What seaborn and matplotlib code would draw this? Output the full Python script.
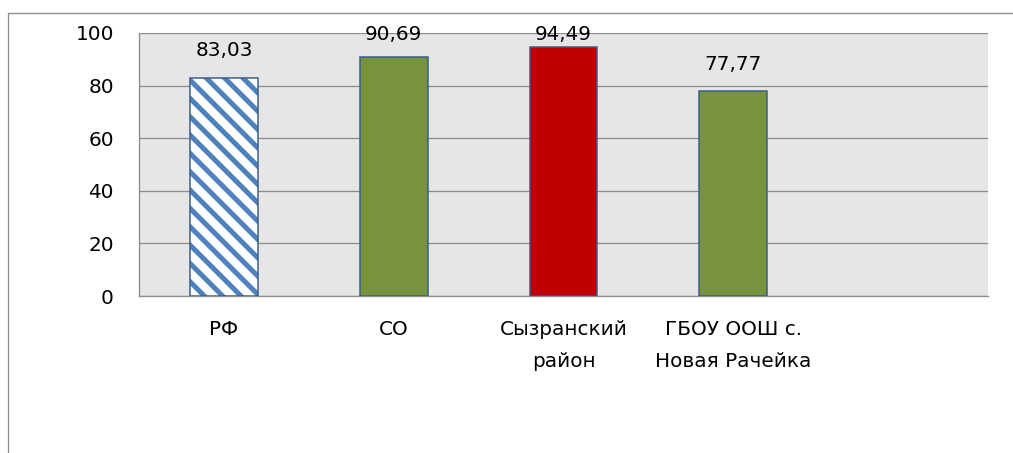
import matplotlib
matplotlib.use("Agg")
import matplotlib.pyplot as plt
from matplotlib.patches import Rectangle
from matplotlib.lines import Line2D
import seaborn as sns
import pandas as pd

categories = ["РФ", "СО", "Сызранский\nрайон", "ГБОУ ООШ с.\nНовая Рачейка"]
values = [83.03, 90.69, 94.49, 77.77]
value_labels = ["83,03", "90,69", "94,49", "77,77"]
slot_order = categories + [" "]
yticks = [0, 20, 40, 60, 80, 100]

fill_colors = ["#ffffff", "#77933c", "#c00000", "#77933c"]
hatch_blue = "#4f81bd"
edge_blue = "#385d8a"
grid_grey = "#8c8c8c"

DPI = 55
P = 72 / DPI  # points per pixel


def px(v):
    return v * P


sns.set_theme(style="white")
plt.rcParams["font.family"] = ["DejaVu Sans"]
plt.rcParams["hatch.linewidth"] = px(5.0)

FS = px(20)
fig = plt.figure(figsize=(1013 / DPI, 453 / DPI), dpi=DPI)
ax = fig.add_axes([139 / 1013, 1 - 296 / 453, (988 - 139) / 1013, (296 - 33) / 453])

df = pd.DataFrame({"cat": categories, "val": values})
sns.barplot(data=df, x="cat", y="val", order=slot_order, hue="cat",
            palette=dict(zip(categories, fill_colors)), legend=False, saturation=1,
            width=0.4, edgecolor=edge_blue, linewidth=px(1.5), ax=ax, zorder=3)

bars = [p for p in ax.patches if p.get_height() == p.get_height() and p.get_height() > 0]
b0 = bars[0]
b0.set_hatch("\\")
b0.set_edgecolor(hatch_blue)
b0.set_linewidth(0)
ax.add_patch(Rectangle(b0.get_xy(), b0.get_width(), b0.get_height(),
                       fill=False, edgecolor=edge_blue, linewidth=px(1.5), zorder=4))

ax.set_facecolor("#e6e6e6")
ax.set_ylim(0, 100)
ax.set_xlim(-0.5, len(slot_order) - 0.5)
ax.set_yticks(yticks)
ax.set_yticklabels([str(t) for t in yticks], fontsize=FS, color="black")
ax.yaxis.grid(True, color=grid_grey, linewidth=px(1.3), zorder=0)
ax.set_axisbelow(True)

ax.set_xticks(range(len(slot_order)))
ax.set_xticklabels(slot_order, fontsize=FS, color="black", linespacing=1.88)
ax.tick_params(axis="x", which="major", length=0, pad=px(24))
ax.set_xticks([i - 0.5 for i in range(len(slot_order) + 1)], minor=True)
ax.tick_params(axis="x", which="minor", length=px(7), width=px(1.2), color=grid_grey, direction="out")
ax.tick_params(axis="y", which="major", length=px(8), width=px(1.2), color=grid_grey,
               direction="out", pad=px(17))

for side in ["top", "right"]:
    ax.spines[side].set_visible(False)
for side in ["left", "bottom"]:
    ax.spines[side].set_color(grid_grey)
    ax.spines[side].set_linewidth(px(1.3))

ax.set_xlabel("")
ax.set_ylabel("")

for i, (v, lab) in enumerate(zip(values, value_labels)):
    ax.text(i, min(v + 10.2, 99.5), lab, ha="center", va="center",
            fontsize=FS, color="black", zorder=5)

# outer chart border (partially visible)
x0, y0 = 8 / 1013, 1 - 13 / 453
fig.add_artist(Line2D([x0, x0], [0, y0], color=grid_grey, linewidth=px(1.3), transform=fig.transFigure))
fig.add_artist(Line2D([x0, 1], [y0, y0], color=grid_grey, linewidth=px(1.3), transform=fig.transFigure))

fig.savefig("out.png", dpi=DPI, facecolor="white")
